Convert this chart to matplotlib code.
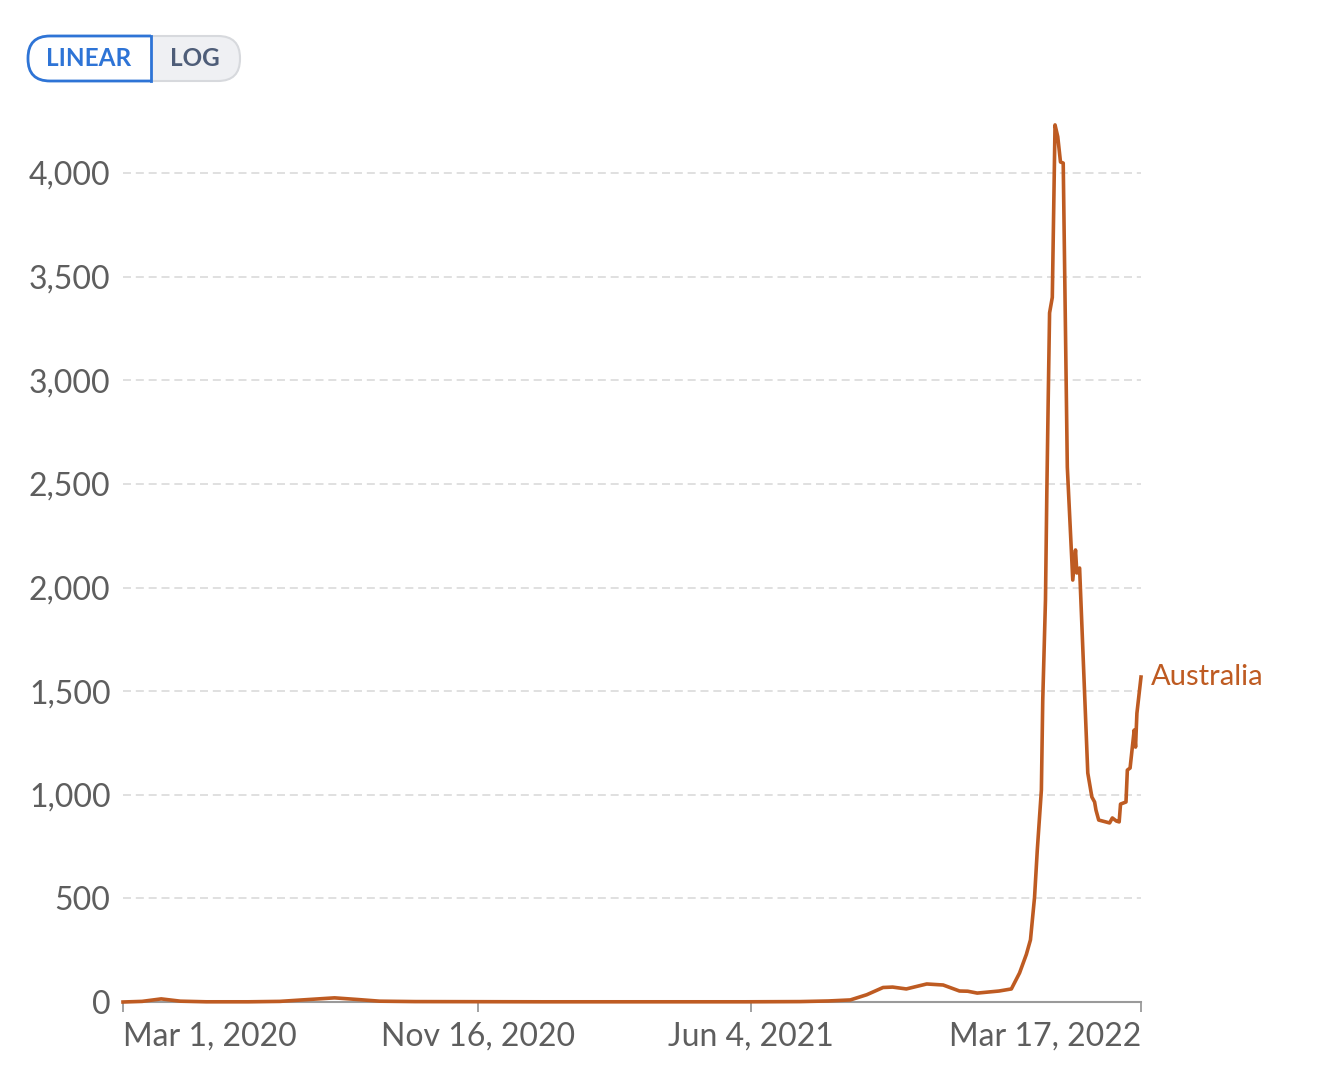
import matplotlib.pyplot as plt
import matplotlib.dates as mdates
import numpy as np
import pandas as pd
from matplotlib.patches import FancyBboxPatch, Rectangle

plt.rcParams['font.family'] = ['Lato', 'DejaVu Sans']

# data
dates = ["2020-03-01", "2020-03-15", "2020-03-29", "2020-04-12", "2020-05-01",
         "2020-06-01", "2020-06-24", "2020-07-15", "2020-08-03", "2020-08-20",
         "2020-09-05", "2020-10-01", "2021-01-01", "2021-06-01", "2021-07-10",
         "2021-07-31", "2021-08-16", "2021-08-28", "2021-09-09", "2021-09-16",
         "2021-09-26", "2021-10-11", "2021-10-23", "2021-11-04", "2021-11-10",
         "2021-11-17", "2021-12-03", "2021-12-12", "2021-12-18", "2021-12-23",
         "2021-12-26", "2021-12-29", "2021-12-31", "2022-01-03", "2022-01-04",
         "2022-01-06", "2022-01-07", "2022-01-08", "2022-01-09", "2022-01-11",
         "2022-01-13", "2022-01-15", "2022-01-17", "2022-01-19", "2022-01-22",
         "2022-01-26", "2022-01-28", "2022-01-29", "2022-01-31", "2022-02-06",
         "2022-02-09", "2022-02-11", "2022-02-12", "2022-02-14", "2022-02-22",
         "2022-02-24", "2022-02-27", "2022-03-01", "2022-03-02", "2022-03-06",
         "2022-03-07", "2022-03-09", "2022-03-12", "2022-03-13", "2022-03-14",
         "2022-03-17"]
values = [0, 3, 15, 4, 1,
          1, 3, 12, 20, 12,
          4, 2, 1, 1, 2,
          5, 10, 35, 70, 72,
          63, 87, 82, 53, 52,
          43, 53, 63, 140, 230,
          300, 506, 733, 1023, 1457,
          1940, 2463, 2905, 3325, 3400,
          4232, 4175, 4053, 4048, 2581,
          2036, 2181, 2070, 2094, 1105,
          989, 965, 926, 878, 864,
          888, 873, 869, 955, 965,
          1119, 1129, 1312, 1230, 1393,
          1568]
country = "Australia"
y_ticks = [0, 500, 1000, 1500, 2000, 2500, 3000, 3500, 4000]
x_ticks = ["2020-03-01", "2020-11-16", "2021-06-04", "2022-03-17"]
x_ticklabels = ["Mar 1, 2020", "Nov 16, 2020", "Jun 4, 2021", "Mar 17, 2022"]

line_color = "#BE5B22"
text_gray = "#5E5E5E"

W, H = 1343, 1069
fig = plt.figure(figsize=(W / 100, H / 100), dpi=100)

x0, x1 = 123, 1141
y0 = 1002
ymax = 4250
ytop = y0 - ymax * 829 / 4000
ax = fig.add_axes([x0 / W, (H - y0) / H, (x1 - x0) / W, (y0 - ytop) / H])

d = pd.to_datetime(dates)
ax.plot(d, values, color=line_color, lw=2.6, solid_joinstyle='round', clip_on=False, zorder=3)
ax.set_xlim(pd.Timestamp(x_ticks[0]), pd.Timestamp(x_ticks[-1]))
ax.set_ylim(0, ymax)

for s in ['top', 'right', 'left']:
    ax.spines[s].set_visible(False)
ax.spines['bottom'].set_color('#9A9A9A')
ax.spines['bottom'].set_linewidth(1.5)

ax.set_yticks(y_ticks)
ax.set_yticklabels([f"{v:,}" for v in y_ticks])
ax.tick_params(axis='y', length=0, pad=9, labelsize=23, labelcolor=text_gray)
for v in y_ticks[1:]:
    ax.axhline(v, color='#DADADA', lw=1.2, dashes=(4.8, 2.9), zorder=1)

ax.set_xticks(pd.to_datetime(x_ticks))
ax.set_xticklabels(x_ticklabels)
ax.tick_params(axis='x', length=7, width=1.3, color='#9A9A9A', pad=7,
               labelsize=23, labelcolor=text_gray)
labels = ax.get_xticklabels()
labels[0].set_ha('left')
labels[-1].set_ha('right')

ax.text(1.01, values[-1], country, transform=ax.get_yaxis_transform(),
        color=line_color, fontsize=21, va='center', ha='left')

# LINEAR / LOG toggle, drawn in pixel coords
ov = fig.add_axes([0, 0, 1, 1], zorder=5)
ov.set_xlim(0, W)
ov.set_ylim(H, 0)
ov.axis('off')
ov.patch.set_alpha(0)

pill = FancyBboxPatch((28, 36), 212, 45, boxstyle="round,pad=0,rounding_size=22",
                      fc='#EFF0F3', ec='#D7D9DD', lw=1.5)
ov.add_patch(pill)
lin = FancyBboxPatch((28, 36), 170, 45, boxstyle="round,pad=0,rounding_size=22",
                     fc='white', ec='#2E74D6', lw=2)
ov.add_patch(lin)
clip = Rectangle((20, 30), 131, 60, transform=ov.transData)
lin.set_clip_path(clip)
ov.plot([151, 151], [36, 81], color='#2E74D6', lw=2)
ov.text(89, 58.5, "LINEAR", color='#2E74D6', fontsize=17.5, fontweight='bold',
        ha='center', va='center')
ov.text(195, 58.5, "LOG", color='#4E5D78', fontsize=17.5, fontweight='bold',
        ha='center', va='center')

fig.savefig("out.png", dpi=100, facecolor='white')
